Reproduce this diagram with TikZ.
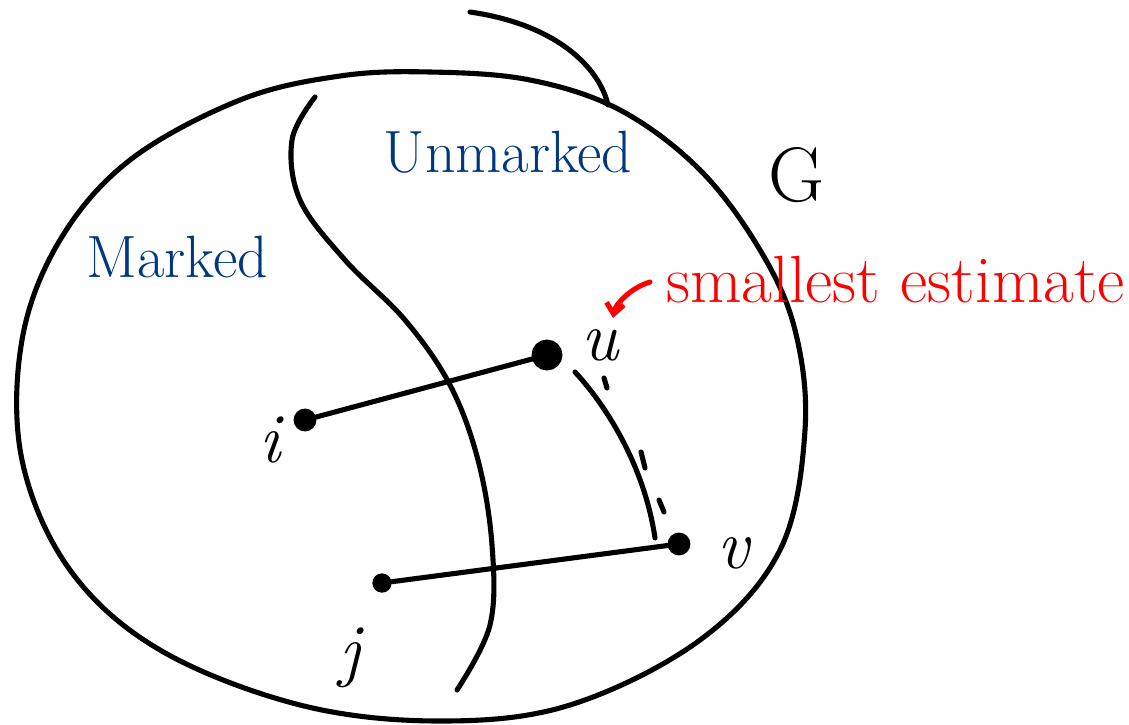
\documentclass[tikz,border=0pt]{standalone}
\usetikzlibrary{arrows.meta}
\definecolor{markblue}{RGB}{0,56,128}
\definecolor{estred}{RGB}{255,0,0}
\tikzset{
  pen/.style={line width=2.9pt, line cap=round, line join=round},
  vdot/.style={circle, fill=black, inner sep=0pt, minimum size=13pt},
  vlab/.style={font=\fontsize{40}{40}\selectfont\itshape},
  region/.style={text=markblue, font=\fontsize{34}{34}\selectfont},
  note/.style={text=estred, font=\fontsize{38}{38}\selectfont}
}
\begin{document}
\begin{tikzpicture}[x=0.02cm, y=-0.02cm]
\useasboundingbox (0,0) rectangle (1129,724);
% outer region G
\draw[pen] plot[smooth cycle, tension=0.6] coordinates {
  (430,72) (530,80) (620,110) (700,170) (760,250) (795,330) (805,430)
  (780,550) (700,640) (570,705) (440,721) (300,705) (160,650) (70,570)
  (22,460) (22,340) (60,240) (130,160) (240,100) (340,76)};
% top stroke
\draw[pen] (470,12) .. controls (560,25) and (600,70) .. (608,105);
% divider
\draw[pen] plot[smooth, tension=0.6] coordinates {
  (315,97) (292,140) (300,200) (345,260) (405,320) (450,385) (478,460)
  (492,545) (490,625) (457,690)};
% vertices
\node[vdot] (i) at (305,420) {};
\node[draw, circle, line width=2.6pt, fill=black, inner sep=0pt, minimum size=15pt] (u) at (547,355) {};
\node[vdot] (v) at (679,544) {};
\node[vdot, minimum size=11pt] (j) at (382,583) {};
% labels
\node[vlab] (li) at (270,440) {i};
\node[vlab] (lu) at (600,345) {u};
\node[vlab] (lv) at (733,553) {v};
\node[vlab] (lj) at (350,658) {j};
\node[font=\fontsize{44}{44}\selectfont] (lG) at (797,175) {G};
\node[region] (lm) at (177,257) {Marked};
\node[region] (lun) at (508,152) {Unmarked};
\node[note, anchor=west] (est) at (660,280) {smallest estimate};
% edges
\draw[pen] (i) -- (u);
\draw[pen] (j) -- (v);
\coordinate (a1) at (575,372);
\coordinate (a2) at (655,538);
\draw[pen] (a1) .. controls (610,410) and (645,470) .. (a2);
\foreach \p/\q in {{(604,378)}/{(607,388)}, {(641,452)}/{(645,468)}, {(659,500)}/{(664,512)}}
  \draw[pen] \p -- \q;
% arrow to u
\coordinate (e1) at (650,282);
\coordinate (e2) at (613,318);
\draw[pen, estred, -{Straight Barb[length=6pt,width=10pt]}] (e1) .. controls (630,288) and (615,305) .. (e2);
\end{tikzpicture}
\end{document}
